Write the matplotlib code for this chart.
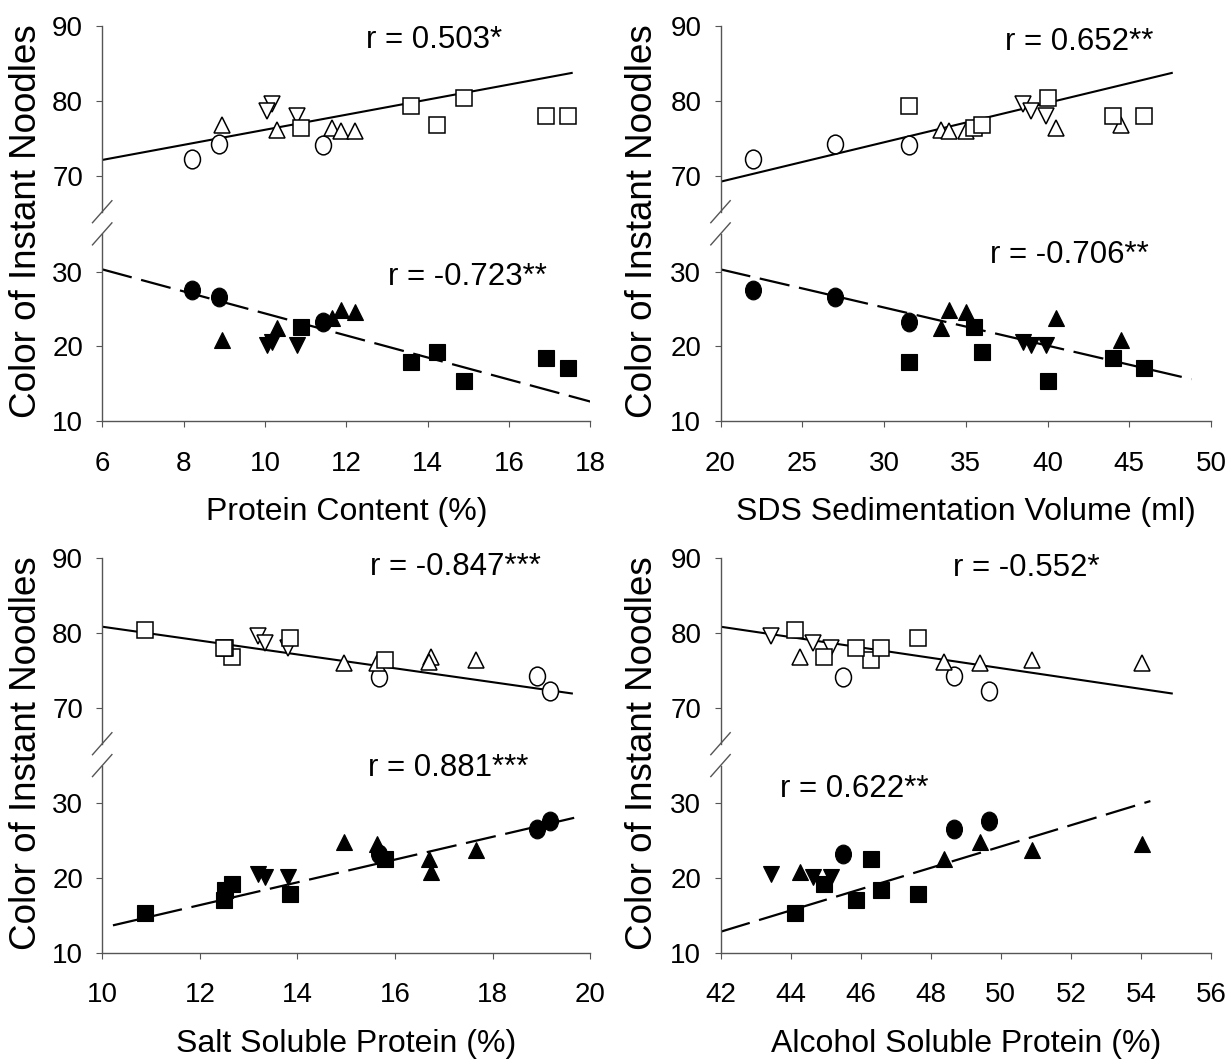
import matplotlib
matplotlib.use("Agg")
import matplotlib.pyplot as plt
from matplotlib.lines import Line2D
from matplotlib.markers import MarkerStyle
from matplotlib.transforms import Affine2D

plt.rcParams["font.family"] = ["Liberation Sans", "DejaVu Sans"]
plt.rcParams["lines.scale_dashes"] = False

# colour of instant noodles per sample: upper block and lower block values
circ_top = [72.2, 74.2, 74.1]
circ_bot = [27.6, 26.6, 23.2]
up_top = [76.8, 76.1, 76.4, 76.0, 76.0]
up_bot = [20.8, 22.5, 23.8, 24.8, 24.6]
down_top = [79.5, 78.6, 77.9]
down_bot = [20.6, 20.2, 20.2]
sq_top = [76.4, 79.3, 76.8, 80.3, 78.0, 78.0]
sq_bot = [22.6, 17.9, 19.2, 15.3, 18.4, 17.1]

# flour properties of the same samples
protein_circ = [8.20, 8.86, 11.42]
protein_up = [8.94, 10.30, 11.65, 11.86, 12.21]
protein_down = [10.17, 10.06, 10.78]
protein_sq = [10.88, 13.59, 14.24, 14.89, 16.91, 17.44]

sds_circ = [22.0, 27.0, 31.5]
sds_up = [44.5, 33.5, 40.5, 34.0, 35.0]
sds_down = [38.5, 39.0, 39.9]
sds_sq = [35.5, 31.5, 36.0, 40.0, 44.0, 45.9]

salt_circ = [19.17, 18.90, 15.67]
salt_up = [16.73, 16.69, 17.65, 14.95, 15.63]
salt_down = [13.20, 13.34, 13.80]
salt_sq = [15.80, 13.84, 12.66, 10.87, 12.52, 12.49]

alc_circ = [49.66, 48.66, 45.50]
alc_up = [44.27, 48.37, 50.89, 49.41, 54.04]
alc_down = [43.45, 44.64, 45.16]
alc_sq = [46.30, 47.65, 44.94, 44.13, 46.57, 45.87]

# trend lines (end points)
protein_fit_x = [[6, 17.54], [6, 18]]
protein_fit_y = [[72.1, 83.7], [30.3, 12.6]]
sds_fit_x = [[20, 47.6], [20, 48.8]]
sds_fit_y = [[69.2, 83.7], [30.3, 15.6]]
salt_fit_x = [[10, 19.62], [10.22, 19.86]]
salt_fit_y = [[80.8, 71.9], [13.66, 28.35]]
alc_fit_x = [[42, 54.88], [42, 54.27]]
alc_fit_y = [[80.8, 71.9], [12.8, 30.3]]

r_labels = [
    ("r = 0.503*", "r = -0.723**"),
    ("r = 0.652**", "r = -0.706**"),
    ("r = -0.847***", "r = 0.881***"),
    ("r = -0.552*", "r = 0.622**"),
]
r_pos = [
    ((12.49, 88.1), (13.02, 29.3)),
    ((37.43, 87.8), (36.47, 32.2)),
    ((15.49, 88.7), (15.45, 34.7)),
    ((48.63, 88.6), (43.71, 31.9)),
]

W, H = 1227, 1061
AXCOL = "#555555"
TOP_LIM = (65.2, 90)
BOT_LIM = (10, 35.05)

circle = MarkerStyle("o", transform=Affine2D().scale(0.85, 1.0))
groups = [(circle, 13.5), ("^", 12), ("v", 12), ("s", 11)]


def px_axes(fig, left, top, right, bottom):
    return fig.add_axes([left / W, 1 - bottom / H, (right - left) / W, (bottom - top) / H])


def style_axes(ax, xlim):
    ax.set_facecolor("none")
    ax.set_xlim(xlim)
    for side in ("top", "right"):
        ax.spines[side].set_visible(False)
    for side in ("left", "bottom"):
        ax.spines[side].set_color(AXCOL)
        ax.spines[side].set_linewidth(1.0)
    ax.tick_params(axis="both", direction="out", length=4.3, width=0.8,
                   color=AXCOL, labelsize=20)
    ax.tick_params(axis="y", pad=9.5)
    ax.tick_params(axis="x", pad=17)


def draw_panel(fig, left, right, top, bottom, xs, xlim, xticks, xlabel,
               fit_x, fit_y, labels, pos, ylab_x):
    t_bot = top + (TOP_LIM[1] - TOP_LIM[0]) * 7.5
    b_top = bottom - (BOT_LIM[1] - BOT_LIM[0]) * 7.47
    ax_t = px_axes(fig, left, top, right, t_bot)
    ax_b = px_axes(fig, left, b_top, right, bottom)
    style_axes(ax_t, xlim)
    style_axes(ax_b, xlim)

    ax_t.set_ylim(TOP_LIM)
    ax_t.set_yticks([70, 80, 90])
    ax_t.spines["bottom"].set_visible(False)
    ax_t.tick_params(axis="x", bottom=False, labelbottom=False)
    ax_b.set_ylim(BOT_LIM)
    ax_b.set_yticks([10, 20, 30])
    ax_b.set_xticks(xticks)
    ax_b.set_xlabel(xlabel, fontsize=23, labelpad=15)

    ax_t.plot(fit_x[0], fit_y[0], color="black", lw=1.5, zorder=2)
    ax_b.plot(fit_x[1], fit_y[1], color="black", lw=1.6,
              linestyle=(0, (22, 7)), zorder=2)

    tops = [circ_top, up_top, down_top, sq_top]
    bots = [circ_bot, up_bot, down_bot, sq_bot]
    for (mk, ms), x, yt, yb in zip(groups, xs, tops, bots):
        ax_t.plot(x, yt, linestyle="none", marker=mk, ms=ms, mfc="white",
                  mec="black", mew=1.1, zorder=3, clip_on=False)
        ax_b.plot(x, yb, linestyle="none", marker=mk, ms=ms, mfc="black",
                  mec="black", mew=0.8, zorder=3, clip_on=False)

    ax_t.text(pos[0][0], pos[0][1], labels[0], fontsize=22.5, ha="left", va="center")
    ax_b.text(pos[1][0], pos[1][1], labels[1], fontsize=22.5, ha="left", va="center")

    # axis break marks
    for yc in (t_bot, b_top):
        fig.add_artist(Line2D([(left - 9.7) / W, (left + 9.7) / W],
                              [1 - (yc + 11) / H, 1 - (yc - 11) / H],
                              transform=fig.transFigure, color=AXCOL, lw=1.0))

    fig.text(ylab_x / W, 1 - (top + 195) / H, "Color of Instant Noodles",
             rotation=90, ha="center", va="center", fontsize=26.5)


fig = plt.figure(figsize=(W / 100, H / 100), dpi=100)

draw_panel(fig, 102.2, 590.4, 25.7, 421,
           [protein_circ, protein_up, protein_down, protein_sq],
           (6, 18), range(6, 19, 2), "Protein Content (%)",
           protein_fit_x, protein_fit_y, r_labels[0], r_pos[0], 26.5)
draw_panel(fig, 720.5, 1211, 25.7, 421,
           [sds_circ, sds_up, sds_down, sds_sq],
           (20, 50), range(20, 51, 5), "SDS Sedimentation Volume (ml)",
           sds_fit_x, sds_fit_y, r_labels[1], r_pos[1], 642.5)
draw_panel(fig, 102.2, 590.4, 557.7, 952.7,
           [salt_circ, salt_up, salt_down, salt_sq],
           (10, 20), range(10, 21, 2), "Salt Soluble Protein (%)",
           salt_fit_x, salt_fit_y, r_labels[2], r_pos[2], 26.5)
draw_panel(fig, 720.5, 1211, 557.7, 952.7,
           [alc_circ, alc_up, alc_down, alc_sq],
           (42, 56), range(42, 57, 2), "Alcohol Soluble Protein (%)",
           alc_fit_x, alc_fit_y, r_labels[3], r_pos[3], 642.5)

fig.savefig("out.png", dpi=100)
